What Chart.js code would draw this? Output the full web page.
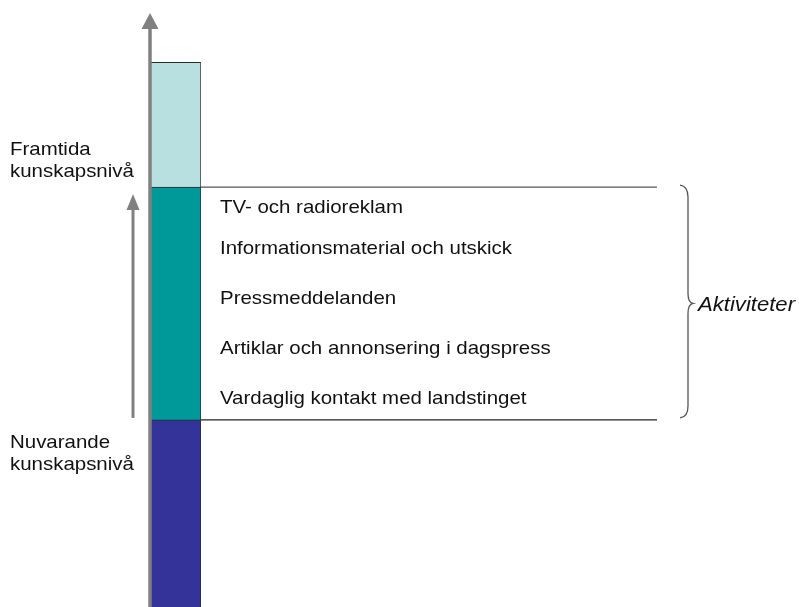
<!DOCTYPE html>
<html>
<head>
<meta charset="utf-8">
<script src="https://cdn.jsdelivr.net/npm/chart.js@4/dist/chart.umd.min.js"></script>
<style>
  html, body { margin: 0; padding: 0; background: #fff; }
  #wrap { width: 799px; height: 607px; }
</style>
</head>
<body>
<div id="wrap"><canvas id="chart" width="799" height="607"></canvas></div>
<script>
// kunskapsnivå, relative units (0-100 along the arrow)
const categories = ['Kunskapsnivå'];
const levelNames = ['Nuvarande kunskapsnivå', 'Aktiviteter', 'Framtida kunskapsnivå'];
const levelValues = [31.5, 39.2, 21.0];
const levelColors = ['#333399', '#009999', '#b8e0e1'];
const activities = [
  'TV- och radioreklam',
  'Informationsmaterial och utskick',
  'Pressmeddelanden',
  'Artiklar och annonsering i dagspress',
  'Vardaglig kontakt med landstinget'
];
const leftLabelsTop = ['Framtida', 'kunskapsnivå'];
const leftLabelsBottom = ['Nuvarande', 'kunskapsnivå'];
const braceLabel = 'Aktiviteter';

// layout
const FONT = '"Liberation Sans", Arial, sans-serif';
const STRETCH = 1.105;
const activityBaselines = [213, 254, 304, 354, 404];

function stretchText(ctx, text, x, y) {
  ctx.save();
  ctx.translate(x, y);
  ctx.scale(STRETCH, 1);
  ctx.fillText(text, 0, 0);
  ctx.restore();
}

function arrow(ctx, x, yFrom, yTip, head, half, width) {
  ctx.save();
  ctx.strokeStyle = '#808080';
  ctx.fillStyle = '#808080';
  ctx.lineWidth = width;
  ctx.beginPath();
  ctx.moveTo(x, yFrom);
  ctx.lineTo(x, yTip + head - 1);
  ctx.stroke();
  ctx.beginPath();
  ctx.moveTo(x, yTip);
  ctx.lineTo(x - half, yTip + head);
  ctx.lineTo(x + half, yTip + head);
  ctx.closePath();
  ctx.fill();
  ctx.restore();
}

const overlay = {
  id: 'overlay',
  afterDatasetsDraw(chart) {
    const ctx = chart.ctx;
    const y = chart.scales.y;
    const area = chart.chartArea;
    const cur = y.getPixelForValue(levelValues[0]);
    const fut = y.getPixelForValue(levelValues[0] + levelValues[1]);

    // level lines
    ctx.save();
    ctx.lineWidth = 1.2;
    ctx.strokeStyle = '#555';
    ctx.beginPath();
    ctx.moveTo(area.right, fut);
    ctx.lineTo(657, fut);
    ctx.stroke();
    ctx.strokeStyle = '#222';
    ctx.beginPath();
    ctx.moveTo(area.right, cur);
    ctx.lineTo(657, cur);
    ctx.stroke();
    ctx.restore();

    // main axis arrow and the small progress arrow
    arrow(ctx, area.left, 607, area.top, 16, 8.5, 3.5);
    arrow(ctx, 133, cur - 2, fut + 7, 16, 6.5, 3);

    // brace
    const top = fut - 2, bot = cur - 2, mid = (top + bot) / 2 + 2;
    ctx.save();
    ctx.strokeStyle = '#555';
    ctx.lineWidth = 1.3;
    ctx.beginPath();
    ctx.moveTo(680, top);
    ctx.quadraticCurveTo(688, top + 1, 688, top + 12);
    ctx.lineTo(688, mid - 10);
    ctx.quadraticCurveTo(688, mid - 1, 693, mid);
    ctx.quadraticCurveTo(688, mid + 1, 688, mid + 10);
    ctx.lineTo(688, bot - 12);
    ctx.quadraticCurveTo(688, bot - 1, 680, bot);
    ctx.stroke();
    ctx.restore();

    // texts
    ctx.save();
    ctx.fillStyle = '#111';
    ctx.textBaseline = 'alphabetic';
    ctx.textAlign = 'left';
    ctx.font = '18.5px ' + FONT;
    activities.forEach((t, i) => stretchText(ctx, t, 220, activityBaselines[i]));
    stretchText(ctx, leftLabelsTop[0], 10, fut - 32);
    stretchText(ctx, leftLabelsTop[1], 10, fut - 10);
    stretchText(ctx, leftLabelsBottom[0], 10, cur + 28);
    stretchText(ctx, leftLabelsBottom[1], 10, cur + 50);
    ctx.font = 'italic 20px ' + FONT;
    stretchText(ctx, braceLabel, 698, mid + 8);
    ctx.restore();
  }
};

new Chart(document.getElementById('chart'), {
  type: 'bar',
  data: {
    labels: categories,
    datasets: levelNames.map((name, i) => ({
      label: name,
      data: [levelValues[i]],
      backgroundColor: levelColors[i],
      borderColor: '#2a2a2a',
      borderWidth: 1,
      barPercentage: 1,
      categoryPercentage: 1
    }))
  },
  options: {
    responsive: false,
    animation: false,
    layout: { padding: { left: 150, right: 598, top: 13, bottom: 0 } },
    plugins: { legend: { display: false }, tooltip: { enabled: false } },
    scales: {
      x: { stacked: true, display: false },
      y: { stacked: true, display: false, min: 0, max: 100 }
    }
  },
  plugins: [overlay]
});
</script>
</body>
</html>
